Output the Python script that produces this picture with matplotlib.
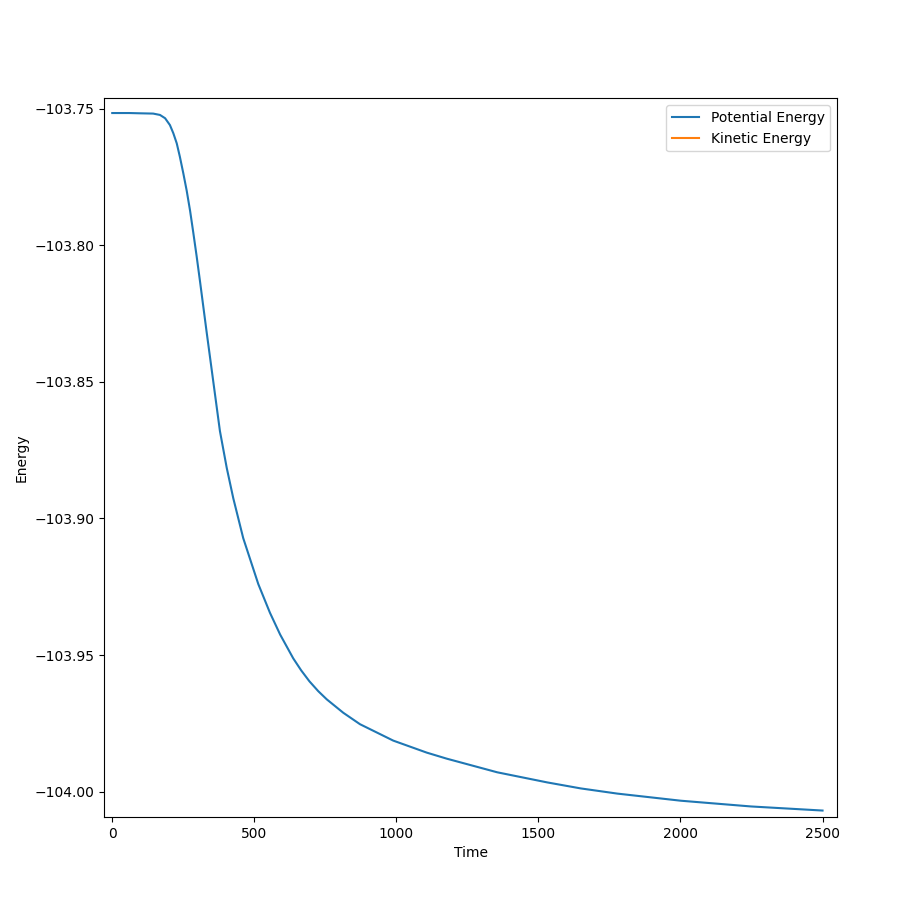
import matplotlib
matplotlib.use("Agg")
import matplotlib.pyplot as plt

# potential energy
time_steps = [0, 60, 98, 144, 168, 186, 203, 215, 227, 238, 250, 262, 274,
              285, 297, 309, 332, 356, 379, 403, 426, 461, 514, 555, 591,
              637, 665, 694, 725, 755, 813, 872, 989, 1107, 1177, 1355,
              1531, 1649, 1778, 2001, 2248, 2500]
potential = [-103.7516, -103.7516, -103.7517, -103.7518, -103.7523,
             -103.7535, -103.7560, -103.7590, -103.7627, -103.7676,
             -103.7736, -103.7800, -103.7874, -103.7952, -103.8040,
             -103.8133, -103.8316, -103.8502, -103.8680, -103.8815,
             -103.8926, -103.9072, -103.9240, -103.9345, -103.9425,
             -103.9512, -103.9556, -103.9596, -103.9632, -103.9662,
             -103.9711, -103.9753, -103.9813, -103.9857, -103.9879,
             -103.9929, -103.9966, -103.9988, -104.0007, -104.0033,
             -104.0054, -104.0069]
kinetic_time = []
kinetic = []

fig = plt.figure(figsize=(9.18, 9.10), dpi=100)
ax = fig.add_axes([0.1133, 0.1022, 0.7985, 0.7898])

ax.plot(time_steps, potential, label="Potential Energy")
ax.plot(kinetic_time, kinetic, label="Kinetic Energy")

ax.set_xlim(-29, 2551)
ax.set_ylim(-104.00926, -103.7462)
ax.set_xticks([0, 500, 1000, 1500, 2000, 2500])
ax.set_yticks([-104.00, -103.95, -103.90, -103.85, -103.80, -103.75])
ax.set_xlabel("Time")
ax.set_ylabel("Energy")
ax.legend(loc="upper right")

fig.savefig("out.png", dpi=100)
